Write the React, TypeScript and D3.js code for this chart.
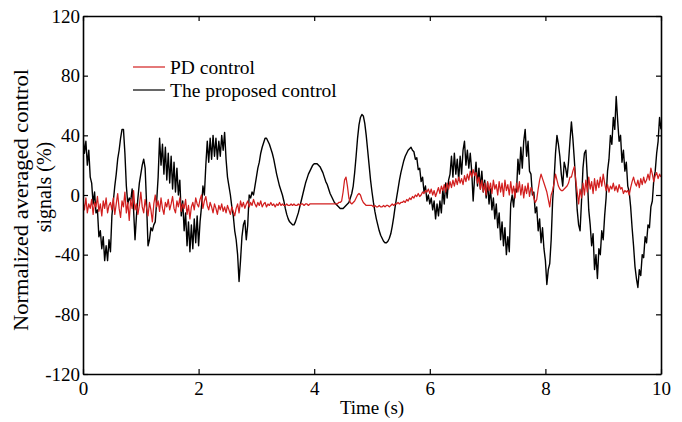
import React, { useEffect, useRef } from 'react';
import * as d3 from 'd3';

// sampling step of both signals (s)
const timeStep = 0.025;

// PD control, normalized averaged control signal (%), one row = 0.5 s
const pdSignal = [
  -4, -10, -2, -12, -6, -9, -3, -13, -5, -8, -1, -11, -6, -14, -4, -9, -2, -12, -7, -5,
  -10, -2, -13, -6, 1, -9, -15, -4, -8, 2, -12, -5, -17, -3, -9, 3, -10, -6, -13, -7,
  2, -8, -12, -3, -9, -14, -5, -10, -18, -6, 0, -8, -4, -11, -2, -9, -13, -5, -8, -3,
  -10, -6, -1, -9, -12, -4, -8, -2, -11, -6, -9, -3, -13, -7, -16, -8, -5, -10, -2, -6,
  -8, -3, 0, -9, -4, -1, -7, -10, -5, -8, -12, -6, -9, -13, -7, -10, -6, -11, -8, -12,
  -7, -10, -13, -8, -11, -14, -9, -6, -12, -4, -8, -5, -9, -6, -4, -8, -5, -7, -3, -6,
  -8, -5, -7, -4, -8, -6, -5, -8, -6, -7, -5, -7, -6, -8, -6, -7, -5, -7, -6, -7,
  -7, -6, -7, -7, -6, -7, -6, -7, -7, -6, -7, -6, -6, -7, -6, -6, -7, -6, -6, -6,
  -6, -6, -6, -6, -6, -6, -6, -6, -6, -6, -6, -6, -6, -6, -6, -6, -6, -5, -5, -4,
  2, 10, 12, 6, -2, -5, -6, -5, -4, -2, 0, 1, 0, -3, -5, -6, -7, -7, -7, -7,
  -7, -8, -7, -8, -8, -7, -8, -8, -7, -8, -7, -7, -8, -7, -6, -7, -6, -6, -5, -6,
  -5, -5, -4, -5, -3, -4, -2, -3, -1, -2, 0, -1, 1, -1, 0, 2, 1, 3, 2, 4,
  1, 4, 0, 3, -1, 2, 5, 1, 6, 3, 7, 2, 8, 4, 9, 5, 10, 6, 11, 7,
  12, 8, 11, 7, 13, 9, 14, 10, 16, 12, 17, 13, 15, 8, 12, 4, 10, 2, 8, 0,
  9, 3, 8, 1, 10, 4, 7, 0, 9, 2, 8, -1, 10, 3, 7, 0, 9, 1, 6, -2,
  8, 2, 9, 0, 7, -2, 6, 1, 8, -1, 5, 3, -2, -5, -3, 4, 10, 14, 11, 8,
  5, 2, -3, -8, 0, 3, 8, 14, 10, 6, 4, 3, 3, 4, 5, 6, 8, 12, 12, 16,
  19, 10, 2, -6, 4, -2, 8, 0, 10, 2, 12, 4, 9, 1, 11, 3, 10, 5, 12, 6,
  14, 8, 3, 7, 2, 6, 4, 8, 3, 6, 2, 7, 4, 5, 1, 3, 2, 3, 0, 5,
  9, 12, 8, 6, 10, 5, 11, 7, 12, 8, 10, 14, 10, 18, 14, 9, 13, 15, 11, 14,
  12,
];

// the proposed control
const proposedSignal = [
  40, 28, 36, 20, 30, 12, 8, -6, 2, -12, -10, -28, -24, -36, -28, -44, -34, -44, -30, -38,
  -14, -4, 6, 14, 24, 30, 38, 44, 44, 28, 6, -6, -2, -4, 4, -10, -30, -14, -2, 8,
  14, 20, 24, 18, -6, -34, -30, -22, -24, -20, -18, -4, 12, 38, 20, 34, 14, 32, 10, 28,
  8, 26, 4, 22, 2, 18, 0, 10, -14, -4, -24, -12, -34, -18, -38, -20, -36, -16, -32, -14,
  -34, -18, -8, 6, 0, 20, 36, 22, 38, 24, 40, 26, 38, 24, 36, 26, 40, 30, 42, 24,
  12, 6, 0, -8, -14, -24, -30, -40, -58, -44, -28, -20, -17, -30, -20, 0, -2, 2, 0, 6,
  12, 18, 22, 28, 32, 35, 38, 38, 36, 34, 31, 28, 24, 19, 14, 10, 6, 3, 0, -4,
  -9, -13, -16, -18, -19, -20, -20, -18, -15, -12, -8, -4, 0, 4, 8, 11, 14, 16, 18, 20,
  21, 21, 21, 20, 19, 17, 15, 12, 9, 7, 4, 1, -1, -3, -5, -6, -7, -8, -9, -9,
  -9, -8, -7, -6, -5, -2, 1, 6, 15, 26, 38, 47, 52, 54, 53, 48, 40, 30, 20, 10,
  2, -5, -11, -16, -20, -24, -27, -29, -31, -32, -32, -31, -29, -26, -21, -15, -8, -2, 4, 10,
  15, 19, 23, 26, 28, 30, 31, 32, 30, 29, 24, 25, 17, 18, 9, 12, 2, 6, -4, 0,
  -6, -2, -10, -4, -16, -6, -14, -4, -12, 4, -6, 8, -2, 10, 14, 26, 12, 28, 14, 24,
  10, 26, 14, 30, 36, 20, 30, 18, 28, 16, -4, 12, 22, 6, 18, 4, 16, 2, 10, -2,
  8, -6, 4, -10, -2, -16, -6, -22, -12, -30, -18, -34, -22, -40, -28, -38, -6, 0, -8, 4,
  2, 24, 14, 32, 18, 36, 44, 26, 36, 16, 14, 0, 2, -12, -8, -24, -16, -32, -22, -36,
  -44, -60, -50, -46, -30, -4, 10, 28, 40, 34, 26, 14, 6, 22, 18, 12, 22, 36, 49, 38,
  24, 8, -10, -20, -24, -4, 18, 28, 30, 12, -10, -20, -34, -26, -50, -40, -56, -36, -40, -24,
  -30, -14, -2, 16, 24, 40, 34, 52, 44, 66, 50, 36, 40, 22, 30, 16, 22, 6, 2, -8,
  -22, -34, -48, -56, -62, -50, -54, -40, -42, -28, -32, -20, -22, -8, -4, 10, 16, 28, 36, 52,
  44,
];

const xTicks = [0, 2, 4, 6, 8, 10];
const yTicks = [-120, -80, -40, 0, 40, 80, 120];
const legendLabels = ['PD control', 'The proposed control'];

export default function App() {
  const ref = useRef<SVGSVGElement>(null);

  useEffect(() => {
    const width = 682;
    const height = 422;
    const m = { left: 83, right: 661, top: 16, bottom: 374 };
    const font = '"Liberation Serif", "Times New Roman", serif';

    const svg = d3.select(ref.current);
    svg.selectAll('*').remove();
    svg.attr('width', width).attr('height', height);

    const x = d3.scaleLinear().domain([0, 10]).range([m.left, m.right]);
    const y = d3.scaleLinear().domain([-120, 120]).range([m.bottom, m.top]);

    const time = proposedSignal.map((_, i) => i * timeStep);
    const line = d3.line<number>()
      .x((d, i) => x(time[i]))
      .y(d => y(d));

    svg.append('clipPath').attr('id', 'plot-clip')
      .append('rect')
      .attr('x', m.left).attr('y', m.top)
      .attr('width', m.right - m.left).attr('height', m.bottom - m.top);

    const plot = svg.append('g').attr('clip-path', 'url(#plot-clip)');
    plot.append('path')
      .datum(proposedSignal)
      .attr('d', line)
      .attr('fill', 'none')
      .attr('stroke', '#000')
      .attr('stroke-width', 1.4)
      .attr('stroke-linejoin', 'round');
    plot.append('path')
      .datum(pdSignal)
      .attr('d', line)
      .attr('fill', 'none')
      .attr('stroke', '#d21f1f')
      .attr('stroke-width', 1.25)
      .attr('stroke-linejoin', 'round');

    // box + inward ticks on all four sides
    const tickLen = 5;
    const label = (d: d3.NumberValue) => String(d);
    svg.append('g').attr('transform', `translate(0,${m.bottom})`)
      .call(d3.axisBottom(x).tickValues(xTicks).tickSizeInner(-tickLen).tickSizeOuter(0).tickPadding(8).tickFormat(label));
    svg.append('g').attr('transform', `translate(0,${m.top})`)
      .call(d3.axisTop(x).tickValues(xTicks).tickSizeInner(-tickLen).tickSizeOuter(0).tickFormat(() => ''));
    svg.append('g').attr('transform', `translate(${m.left},0)`)
      .call(d3.axisLeft(y).tickValues(yTicks).tickSizeInner(-tickLen).tickSizeOuter(0).tickPadding(3).tickFormat(label));
    svg.append('g').attr('transform', `translate(${m.right},0)`)
      .call(d3.axisRight(y).tickValues(yTicks).tickSizeInner(-tickLen).tickSizeOuter(0).tickFormat(() => ''));

    svg.selectAll('.domain').attr('stroke', '#000').attr('stroke-width', 1.6);
    svg.selectAll('.tick line').attr('stroke', '#000').attr('stroke-width', 1.2);
    svg.selectAll('.tick text')
      .attr('font-family', font)
      .attr('font-size', 19)
      .attr('fill', '#000');

    svg.append('text')
      .attr('x', (m.left + m.right) / 2)
      .attr('y', 414)
      .attr('text-anchor', 'middle')
      .attr('font-family', font)
      .attr('font-size', 19)
      .text('Time (s)');

    const yLabel = svg.append('text')
      .attr('transform', `translate(0,${(m.top + m.bottom) / 2}) rotate(-90)`)
      .attr('text-anchor', 'middle')
      .attr('font-family', font);
    yLabel.append('tspan')
      .attr('x', -5).attr('y', 28)
      .attr('font-size', 21)
      .attr('textLength', 262)
      .attr('lengthAdjust', 'spacingAndGlyphs')
      .text('Normalized averaged control');
    yLabel.append('tspan')
      .attr('x', 8).attr('y', 51)
      .attr('font-size', 20)
      .text('signals (%)');

    // legend
    const legendColors = ['#d21f1f', '#000'];
    const legend = svg.append('g');
    legendLabels.forEach((text, i) => {
      const ly = 67 + i * 23;
      legend.append('line')
        .attr('x1', 133).attr('x2', 165)
        .attr('y1', ly).attr('y2', ly)
        .attr('stroke', legendColors[i])
        .attr('stroke-width', 1.2);
      legend.append('text')
        .attr('x', 170).attr('y', ly + 7)
        .attr('font-family', font)
        .attr('font-size', 19.5)
        .text(text);
    });
  }, []);

  return <svg ref={ref} style={{ position: 'absolute', left: 0, top: 0 }} />;
}
